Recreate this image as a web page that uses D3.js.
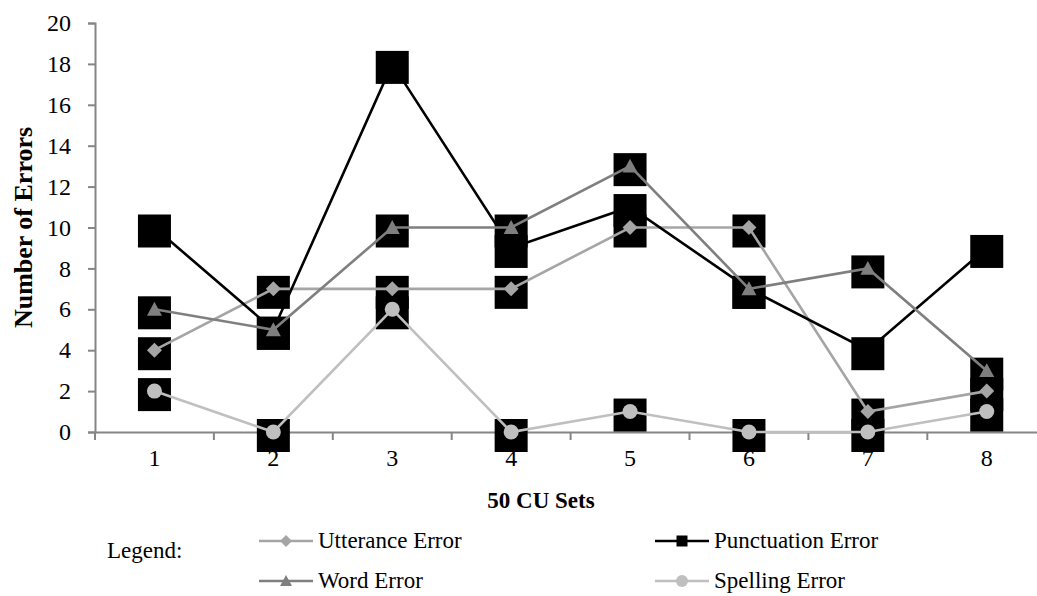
<!DOCTYPE html>
<html>
<head>
<meta charset="utf-8">
<script src="https://cdn.jsdelivr.net/npm/d3@7"></script>
<style>
  body { margin: 0; background: #fff; }
  svg text { font-family: 'Liberation Serif', 'Times New Roman', serif; fill: #000; }
</style>
</head>
<body>
<div id="chart"></div>
<script>
// categories and series values
var categories = ["1", "2", "3", "4", "5", "6", "7", "8"];
var yTicks = [0, 2, 4, 6, 8, 10, 12, 14, 16, 18, 20];
var utterance = [4, 7, 7, 7, 10, 10, 1, 2];
var punctuation = [10, 5, 18, 9, 11, 7, 4, 9];
var word = [6, 5, 10, 10, 13, 7, 8, 3];
var spelling = [2, 0, 6, 0, 1, 0, 0, 1];

var series = [
  {name: "Utterance Error", values: utterance, color: "#a5a5a5", shape: "diamond"},
  {name: "Punctuation Error", values: punctuation, color: "#000000", shape: "square"},
  {name: "Word Error", values: word, color: "#7f7f7f", shape: "triangle"},
  {name: "Spelling Error", values: spelling, color: "#bfbfbf", shape: "circle"}
];

var FONT = "'Liberation Serif', 'Times New Roman', serif";
var W = 1037, H = 596;
var margin = {top: 23, left: 95, bottom: 164};

var svg = d3.select("#chart")
  .append("svg")
    .attr("width", W)
    .attr("height", H);

// category axis, last band runs a bit past the picture edge like the original
var x = d3.scaleBand()
  .domain(categories)
  .range([margin.left, margin.left + 8 * 118.9]);

var y = d3.scaleLinear()
  .domain([0, 20])
  .range([H - margin.bottom, margin.top]);

var cx = function(i) { return x(categories[i]) + x.bandwidth() / 2; };

// marker path for a shape name, r = half width
function marker(shape, r) {
  if (shape === "diamond") return `M0,${-r}L${r},0L0,${r}L${-r},0Z`;
  if (shape === "square") return `M${-r},${-r}H${r}V${r}H${-r}Z`;
  if (shape === "triangle") return `M0,${-r}L${r},${r * 0.85}L${-r},${r * 0.85}Z`;
  return d3.symbol().type(d3.symbolCircle).size(Math.PI * r * r)();
}

// y axis
var yAxis = svg.append("g")
  .attr("transform", `translate(${margin.left},0)`)
  .call(d3.axisLeft(y).tickValues(yTicks).tickSize(7).tickPadding(17));
yAxis.attr("font-family", FONT);
yAxis.selectAll("text").style("font-size", "24px");

// x axis with ticks between categories
var xAxis = svg.append("g")
  .attr("transform", `translate(0,${y(0)})`)
  .call(d3.axisBottom(x).tickSize(0).tickPadding(17));
xAxis.attr("font-family", FONT);
xAxis.selectAll("text").style("font-size", "24px");
xAxis.selectAll(".tick line").remove();
xAxis.selectAll(".boundary")
  .data(categories)
  .join("line")
    .attr("x1", d => x(d)).attr("x2", d => x(d))
    .attr("y1", 0).attr("y2", 8)
    .attr("stroke", "#868686").attr("stroke-width", 2);

svg.selectAll(".domain").attr("stroke", "#868686").attr("stroke-width", 2);
yAxis.selectAll(".tick line").attr("stroke", "#868686").attr("stroke-width", 2);

// black square backdrops behind every point
var backs = svg.append("g");
series.forEach(function(s) {
  backs.selectAll(null)
    .data(s.values)
    .join("rect")
      .attr("x", (d, i) => cx(i) - 16.5)
      .attr("y", d => y(d) - 13)
      .attr("width", 33)
      .attr("height", 33)
      .attr("fill", "#000");
});

// lines
var line = d3.line()
  .x((d, i) => cx(i))
  .y(d => y(d));

series.forEach(function(s) {
  svg.append("path")
    .datum(s.values)
    .attr("d", line)
    .attr("fill", "none")
    .attr("stroke", s.color)
    .attr("stroke-width", 2.6);
});

// markers
series.forEach(function(s) {
  if (s.shape === "square") return;
  svg.append("g").selectAll("path")
    .data(s.values)
    .join("path")
      .attr("transform", (d, i) => `translate(${cx(i)},${y(d)})`)
      .attr("d", marker(s.shape, 7.5))
      .attr("fill", s.color);
});

// axis titles
svg.append("text")
  .attr("transform", `translate(32,${(y(0) + y(20)) / 2}) rotate(-90)`)
  .attr("text-anchor", "middle")
  .style("font-family", FONT)
  .style("font-size", "26px")
  .style("font-weight", "bold")
  .text("Number of Errors");

svg.append("text")
  .attr("x", 541)
  .attr("y", 508)
  .attr("text-anchor", "middle")
  .style("font-family", FONT)
  .style("font-size", "23px")
  .style("font-weight", "bold")
  .text("50 CU Sets");

// legend
svg.append("text")
  .attr("x", 107)
  .attr("y", 558)
  .style("font-family", FONT)
  .style("font-size", "23px")
  .text("Legend:");

var legendPos = [[259, 541], [655, 541], [259, 581], [655, 581]];
series.forEach(function(s, i) {
  var lx = legendPos[i][0], ly = legendPos[i][1];
  var g = svg.append("g").attr("transform", `translate(${lx},${ly})`);
  g.append("line")
    .attr("x1", 0).attr("x2", 54)
    .attr("stroke", s.color).attr("stroke-width", 2.6);
  g.append("path")
    .attr("transform", "translate(27,0)")
    .attr("d", marker(s.shape, s.shape === "square" ? 5.5 : 6))
    .attr("fill", s.color);
  g.append("text")
    .attr("x", 59)
    .attr("y", 7)
    .style("font-family", FONT)
    .style("font-size", "23px")
    .text(s.name);
});
</script>
</body>
</html>
